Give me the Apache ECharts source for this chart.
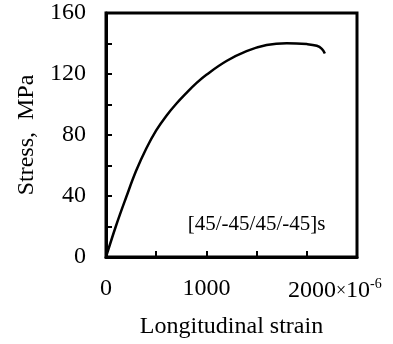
<!DOCTYPE html>
<html>
<head>
<meta charset="utf-8">
<script src="https://cdn.jsdelivr.net/npm/echarts@6/dist/echarts.min.js"></script>
<style>
  html, body { margin: 0; padding: 0; background: #fff; }
  #chart { width: 393px; height: 344px; }
</style>
</head>
<body>
<div id="chart"></div>
<script>
// Longitudinal strain (×10^-6) and stress (MPa) for the [45/-45/45/-45]s laminate
const strain = [0, 100, 200, 300, 400, 500, 600, 700, 800, 900, 1000, 1200, 1400, 1600, 1800, 2000, 2100, 2150, 2180];
const stress = [0, 20.5, 39, 56.5, 71, 83, 92.5, 100.5, 107.5, 114, 119.5, 128.5, 135, 139, 140.2, 139.6, 138.5, 136.5, 133.5];

const xTickLabels = [0, 1000, 2000];
const yTickLabels = [0, 40, 80, 120, 160];
const layupLabel = '[45/-45/45/-45]s';

const FONT = '"Liberation Serif", "DejaVu Serif", serif';

const chart = echarts.init(document.getElementById('chart'), null, { renderer: 'canvas' });

const points = strain.map((s, i) => [s, stress[i]]);

chart.setOption({
  animation: false,
  backgroundColor: '#fff',
  grid: {
    left: 106, top: 13, right: 36, bottom: 84,
    show: true, borderColor: '#000', borderWidth: 3, backgroundColor: 'transparent'
  },
  xAxis: {
    type: 'value',
    min: 0, max: 2500, interval: 500,
    name: 'Longitudinal strain',
    nameLocation: 'middle',
    nameGap: 58,
    nameTextStyle: { fontFamily: FONT, fontSize: 24, color: '#000' },
    axisLine: { show: true, lineStyle: { color: '#000', width: 3 } },
    axisTick: { show: true, inside: true, length: 6, lineStyle: { color: '#000', width: 2 } },
    splitLine: { show: false },
    axisLabel: {
      margin: 20,
      fontFamily: FONT, fontSize: 24, color: '#000',
      formatter: function (v) {
        if (!xTickLabels.includes(v)) return '';
        if (v === xTickLabels[xTickLabels.length - 1]) {
          return '{pad|}' + v + '{x|×}{ten|10}{sup|-6}';
        }
        return String(v);
      },
      rich: {
        pad: { width: 56 },
        x: { fontFamily: FONT, fontSize: 18, color: '#000' },
        ten: { fontFamily: FONT, fontSize: 24, color: '#000' },
        sup: { fontFamily: FONT, fontSize: 14, color: '#000', verticalAlign: 'top', padding: [0, 0, 14, 0] }
      }
    }
  },
  yAxis: {
    type: 'value',
    min: 0, max: 160, interval: 20,
    name: 'Stress,  MPa',
    nameLocation: 'middle',
    nameGap: 66,
    nameTextStyle: { fontFamily: FONT, fontSize: 24, color: '#000' },
    axisLine: { show: true, lineStyle: { color: '#000', width: 3 } },
    axisTick: { show: true, inside: true, length: 6, lineStyle: { color: '#000', width: 2 } },
    splitLine: { show: false },
    axisLabel: {
      margin: 20,
      fontFamily: FONT, fontSize: 24, color: '#000',
      formatter: function (v) { return yTickLabels.includes(v) ? String(v) : ''; }
    }
  },
  series: [{
    type: 'line',
    data: points,
    smooth: 0.4,
    showSymbol: false,
    lineStyle: { color: '#000', width: 2.5 },
    markPoint: {
      symbol: 'rect', symbolSize: 0,
      data: [{ coord: [1500, 21] }],
      label: {
        show: true, formatter: layupLabel,
        fontFamily: FONT, fontSize: 21, color: '#000'
      }
    }
  }]
});
</script>
</body>
</html>
